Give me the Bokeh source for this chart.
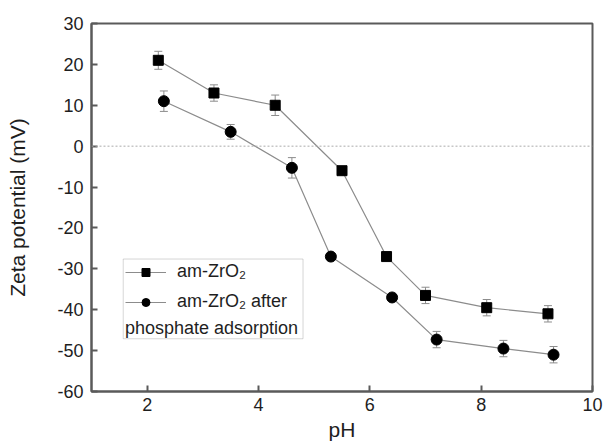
from bokeh.plotting import figure
from bokeh.models import (Whisker, ColumnDataSource, Span, Legend, LegendItem,
                          Label, BoxAnnotation, FixedTicker)
from bokeh.embed import file_html
from bokeh.resources import INLINE

# Data
ph_raw = [2.2, 3.2, 4.3, 5.5, 6.3, 7.0, 8.1, 9.2]
zeta_raw = [21, 13, 10, -6, -27, -36.5, -39.5, -41]
err_raw = [2.2, 2.0, 2.5, 0.5, 0.4, 2.0, 2.0, 2.0]

ph_ads = [2.3, 3.5, 4.6, 5.3, 6.4, 7.2, 8.4, 9.3]
zeta_ads = [11, 3.5, -5.3, -27, -37, -47.3, -49.5, -51]
err_ads = [2.5, 1.8, 2.5, 0.4, 0.4, 2.0, 2.0, 2.0]

x_ticks = [2, 4, 6, 8, 10]
y_ticks = [30, 20, 10, 0, -10, -20, -30, -40, -50, -60]

FONT = "Liberation Sans"
AXIS_COLOR = "#5a5a5a"
LINE_COLOR = "#8c8c8c"
TEXT_COLOR = "#1e1e1e"

p = figure(width=604, height=443, output_backend="svg", toolbar_location=None,
           x_range=(1, 10), y_range=(-60, 30),
           min_border_left=91, min_border_right=12, min_border_top=23, min_border_bottom=51)
p.grid.visible = False
p.outline_line_color = AXIS_COLOR
p.outline_line_width = 2
p.background_fill_color = "white"
p.border_fill_color = "white"

for ax in (p.xaxis[0], p.yaxis[0]):
    ax.axis_line_color = AXIS_COLOR
    ax.axis_line_width = 2
    ax.major_tick_in = 6
    ax.major_tick_out = 0
    ax.major_tick_line_color = AXIS_COLOR
    ax.major_tick_line_width = 2
    ax.minor_tick_line_color = None
    ax.major_label_text_font = FONT
    ax.major_label_text_font_size = "18px"
    ax.major_label_text_color = TEXT_COLOR
    ax.axis_label_text_font = FONT
    ax.axis_label_text_font_size = "21px"
    ax.axis_label_text_font_style = "normal"
    ax.axis_label_text_color = TEXT_COLOR

p.xaxis.ticker = FixedTicker(ticks=x_ticks)
p.yaxis.ticker = FixedTicker(ticks=y_ticks)
p.xaxis.major_label_overrides = {t: str(t) for t in x_ticks}
p.yaxis.major_label_overrides = {t: str(t) for t in y_ticks}
p.xaxis.axis_label = "pH"
p.yaxis.axis_label = "Zeta potential (mV)"
p.xaxis.major_label_standoff = 6
p.xaxis.axis_label_standoff = 4
p.yaxis.major_label_standoff = 8
p.yaxis.axis_label_standoff = 25

# zero reference line
p.add_layout(Span(location=0, dimension="width", line_color="#aaaaaa",
                  line_dash="2 2", line_width=1))

src_raw = ColumnDataSource(dict(x=ph_raw, y=zeta_raw,
                                lo=[v - e for v, e in zip(zeta_raw, err_raw)],
                                hi=[v + e for v, e in zip(zeta_raw, err_raw)]))
src_ads = ColumnDataSource(dict(x=ph_ads, y=zeta_ads,
                                lo=[v - e for v, e in zip(zeta_ads, err_ads)],
                                hi=[v + e for v, e in zip(zeta_ads, err_ads)]))

for src in (src_raw, src_ads):
    w = Whisker(source=src, base="x", lower="lo", upper="hi",
                line_color=LINE_COLOR, line_width=1)
    w.upper_head.size = 8
    w.lower_head.size = 8
    w.upper_head.line_color = LINE_COLOR
    w.lower_head.line_color = LINE_COLOR
    p.add_layout(w)

l1 = p.line("x", "y", source=src_raw, line_color=LINE_COLOR, line_width=1.2)
s1 = p.scatter("x", "y", source=src_raw, marker="square", size=10, color="black")
l2 = p.line("x", "y", source=src_ads, line_color=LINE_COLOR, line_width=1.2)
s2 = p.scatter("x", "y", source=src_ads, marker="circle", size=11, color="black")

legend = Legend(items=[LegendItem(label="am-ZrO\u2082", renderers=[l1, s1]),
                       LegendItem(label="am-ZrO\u2082 after", renderers=[l2, s2])],
                location=(34, 79), border_line_color=None, background_fill_alpha=0,
                padding=0, margin=0, spacing=9, glyph_width=41, glyph_height=20,
                label_height=20, label_standoff=11,
                label_text_font=FONT, label_text_font_size="18px",
                label_text_color=TEXT_COLOR)
p.add_layout(legend)

p.add_layout(Label(x=1.6, y=-47.0, text="phosphate adsorption", text_font=FONT,
                   text_font_size="18px", text_color=TEXT_COLOR))
p.add_layout(BoxAnnotation(left=1.57, right=4.8, top=-27.6, bottom=-47.1,
                           fill_alpha=0, line_color="#777777", line_width=1))

open("out.html", "w").write(file_html(p, INLINE))
